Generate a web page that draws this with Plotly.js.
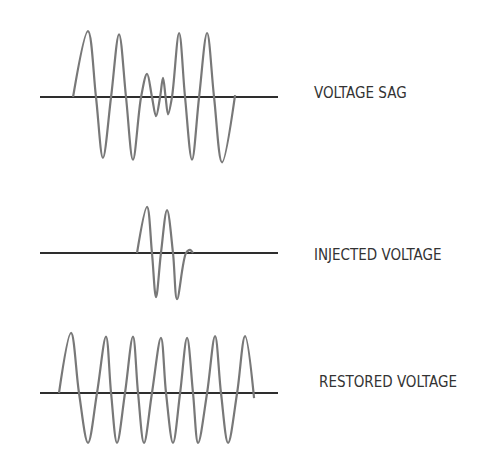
<!DOCTYPE html>
<html>
<head>
<meta charset="utf-8">
<script src="https://cdn.plot.ly/plotly-3.0.1.min.js"></script>
<style>html,body{margin:0;padding:0;background:#fff;}#chart{width:491px;height:457px;}</style>
</head>
<body>
<div id="chart"></div>
<script>
// Time (ms) and amplitude (p.u.): start, extrema and zero crossings
const sagTime = [22.8, 33.1, 38.6, 43.4, 49.0, 54.5, 59.3, 64.1, 69.7, 73.8, 77.2, 80.0, 82.8, 84.8, 86.6, 88.3, 91.0, 95.9, 100.0, 104.8, 109.7, 115.2, 120.0, 125.5, 134.5];
const sagAmp  = [0, 1.03, 0, -0.95, 0, 0.98, 0, -0.98, 0, 0.36, 0, -0.30, 0, 0.30, 0, -0.27, 0, 1.00, 0, -0.98, 0, 1.00, 0, -1.02, 0.03];

const injTime = [66.9, 73.8, 77.2, 80.0, 83.4, 87.6, 91.7, 94.5, 100.7, 103.4, 105.5];
const injAmp  = [0, 0.72, 0, -0.69, 0, 0.67, 0, -0.72, 0, 0.05, 0];

const resTime = [13.1, 21.4, 26.9, 33.1, 39.3, 45.5, 49.0, 53.1, 58.6, 64.1, 67.6, 71.7, 77.2, 83.4, 86.9, 91.7, 96.6, 101.4, 105.5, 109.0, 115.2, 120.7, 124.8, 129.7, 135.9, 141.4, 147.6];
const resAmp  = [0, 0.94, 0, -0.78, 0, 0.88, 0, -0.78, 0, 0.88, 0, -0.78, 0, 0.86, 0, -0.78, 0, 0.86, 0, -0.78, 0, 0.89, 0, -0.78, 0, 0.89, -0.08];

const labels = ["VOLTAGE SAG", "INJECTED VOLTAGE", "RESTORED VOLTAGE"];

// ---- layout helpers (pixel geometry) ----
const W = 491, H = 457, PX_PER_PU = 64;
function panel(basePx, topPx, bottomPx) {
  return {
    domain: [(H - bottomPx) / H, (H - topPx) / H],
    range: [-(bottomPx - basePx) / PX_PER_PU, (basePx - topPx) / PX_PER_PU]
  };
}
const p1 = panel(97, 20, 170), p2 = panel(253, 195, 310), p3 = panel(393, 315, 457);

const waveStyle = {color: '#787878', width: 2.2, shape: 'spline', smoothing: 1};
function trace(x, y, ax) {
  return {x: x, y: y, yaxis: ax, xaxis: 'x', type: 'scatter', mode: 'lines',
          line: waveStyle, hoverinfo: 'skip', showlegend: false};
}
const data = [trace(sagTime, sagAmp, 'y'), trace(injTime, injAmp, 'y2'), trace(resTime, resAmp, 'y3')];

function yax(p) {
  return {domain: p.domain, range: p.range, anchor: 'x', showgrid: false, showticklabels: false,
          ticks: '', showline: false, zeroline: true, zerolinecolor: '#2e2e2e', zerolinewidth: 1.6,
          fixedrange: true};
}
const labelFont = {family: '"DejaVu Sans Condensed", "Liberation Sans Narrow", "Liberation Sans", sans-serif', size: 15, color: '#333333'};
const layout = {
  width: W, height: H,
  margin: {l: 0, r: 0, t: 0, b: 0},
  paper_bgcolor: '#ffffff', plot_bgcolor: 'rgba(0,0,0,0)',
  xaxis: {domain: [40 / W, 278 / W], range: [0, 164.1], showgrid: false, showticklabels: false,
          ticks: '', showline: false, zeroline: false, fixedrange: true},
  yaxis: yax(p1), yaxis2: yax(p2), yaxis3: yax(p3),
  annotations: [
    {text: labels[0], xref: 'paper', yref: 'paper', x: 312 / W, y: (H - 93) / H, xanchor: 'left', yanchor: 'middle', showarrow: false, font: labelFont},
    {text: labels[1], xref: 'paper', yref: 'paper', x: 312 / W, y: (H - 255) / H, xanchor: 'left', yanchor: 'middle', showarrow: false, font: labelFont},
    {text: labels[2], xref: 'paper', yref: 'paper', x: 317 / W, y: (H - 382) / H, xanchor: 'left', yanchor: 'middle', showarrow: false, font: labelFont}
  ]
};
Plotly.newPlot('chart', data, layout, {displayModeBar: false, staticPlot: true});
</script>
</body>
</html>
